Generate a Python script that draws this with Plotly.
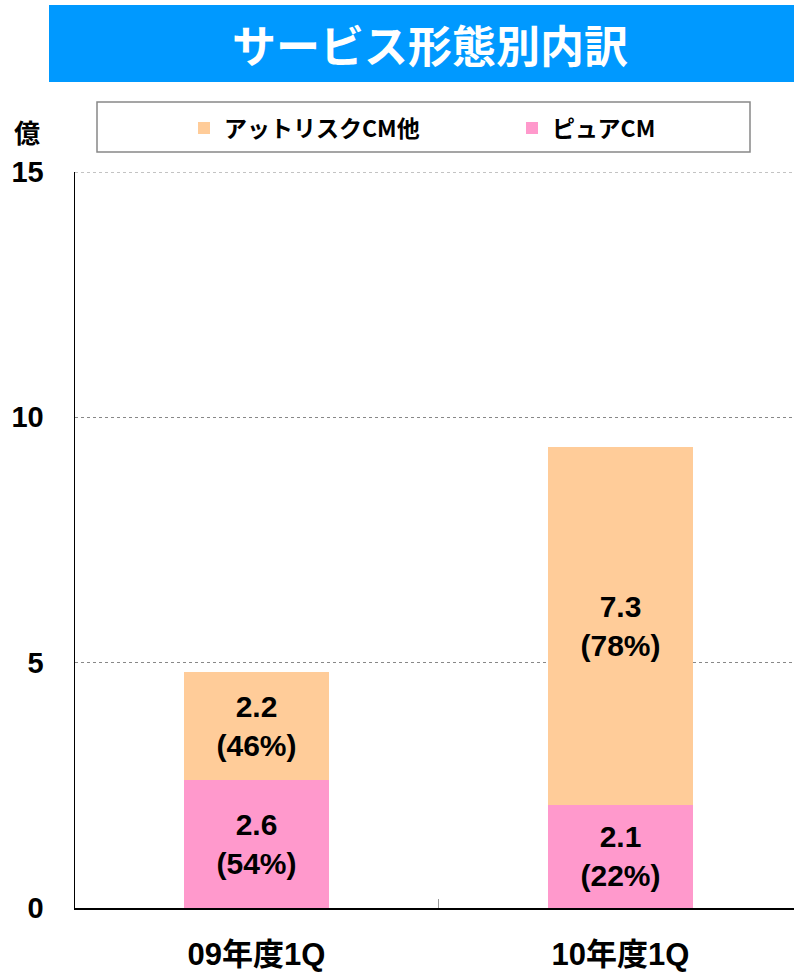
import plotly.graph_objects as go

categories = ["09年度1Q", "10年度1Q"]
pure_cm = [2.6, 2.1]
pure_pct = [54, 22]
atrisk_cm = [2.2, 7.3]
atrisk_pct = [46, 78]
series_names = ["ピュアCM", "アットリスクCM他"]
y_ticks = [0, 5, 10, 15]
title_text = "サービス形態別内訳"
unit_text = "億"

FONT = "Liberation Sans, Arial, Noto Sans CJK JP, sans-serif"
JFONT = "Noto Sans CJK JP, sans-serif"

W, H = 794, 972
L, R, T, B = 75, 0, 172, 64
pw, ph = W - L - R, H - T - B

def px_x(px):
    return (px - L) / pw

def px_y(py):
    return (H - B - py) / ph

def labels(vals, pcts):
    return [f"<b>{v:.1f}<br>({p}%)</b>" for v, p in zip(vals, pcts)]

fig = go.Figure()
fig.add_trace(go.Bar(
    x=categories, y=pure_cm, name=series_names[0], legend="legend2",
    marker=dict(color="#FF99CC", line=dict(width=0)),
    text=labels(pure_cm, pure_pct), textposition="inside",
    insidetextanchor="middle", constraintext="none",
    textfont=dict(family=FONT, size=30, color="black"),
    width=0.4,
))
fig.add_trace(go.Bar(
    x=categories, y=atrisk_cm, name=series_names[1], legend="legend",
    marker=dict(color="#FFCC99", line=dict(width=0)),
    text=labels(atrisk_cm, atrisk_pct), textposition="inside",
    insidetextanchor="middle", constraintext="none",
    textfont=dict(family=FONT, size=30, color="black"),
    width=0.4,
))

leg_common = dict(
    orientation="h", xanchor="left", yanchor="middle",
    font=dict(family=JFONT, size=23, color="black", weight="bold"),
    bgcolor="rgba(0,0,0,0)", borderwidth=0, itemwidth=30,
)

fig.update_layout(
    width=W, height=H, barmode="stack",
    margin=dict(l=L, r=R, t=T, b=B, pad=0, autoexpand=False),
    paper_bgcolor="white", plot_bgcolor="white",
    showlegend=True,
    legend=dict(x=px_x(184), y=px_y(128), **leg_common),
    legend2=dict(x=px_x(512), y=px_y(128), **leg_common),
    xaxis=dict(
        range=[-0.4986, -0.4986 + pw / 364],
        showline=True, linecolor="black", linewidth=1.5,
        ticks="inside", tickson="boundaries", ticklen=9, tickcolor="#999999",
        tickfont=dict(family=FONT, size=31, color="black", weight="bold"),
        ticklabelstandoff=18,
        showgrid=False, fixedrange=True,
    ),
    yaxis=dict(
        range=[0, 15], tickvals=y_ticks,
        showline=True, linecolor="black", linewidth=1.5,
        showgrid=True, gridcolor="#888888", griddash="dot", gridwidth=1,
        zeroline=False, ticks="",
        tickfont=dict(family=FONT, size=29, color="black", weight="bold"),
        ticklabelstandoff=24, fixedrange=True,
    ),
    shapes=[
        dict(type="rect", xref="paper", yref="paper",
             x0=px_x(49), x1=px_x(794), y0=px_y(82), y1=px_y(5),
             fillcolor="#0099FF", line=dict(width=0), layer="below"),
        dict(type="rect", xref="paper", yref="paper",
             x0=px_x(97), x1=px_x(750), y0=px_y(152), y1=px_y(102),
             fillcolor="rgba(0,0,0,0)", line=dict(color="#888888", width=1.5)),
        dict(type="line", xref="paper", yref="y",
             x0=0, x1=1, y0=y_ticks[-1], y1=y_ticks[-1],
             line=dict(color="#888888", width=1, dash="dot")),
    ],
    annotations=[
        dict(text=f"<b>{title_text}</b>", xref="paper", yref="paper",
             x=px_x(430), y=px_y(44), xanchor="center", yanchor="middle",
             showarrow=False, font=dict(family=JFONT, size=44, color="white")),
        dict(text=f"<b>{unit_text}</b>", xref="paper", yref="paper",
             x=px_x(27), y=px_y(131), xanchor="center", yanchor="middle",
             showarrow=False, font=dict(family=JFONT, size=26, color="black")),
    ],
)

fig.write_html(
    "out.html",
    config={"displayModeBar": False, "staticPlot": True},
    post_script="document.body.style.margin='0';document.body.style.overflow='hidden';",
)
